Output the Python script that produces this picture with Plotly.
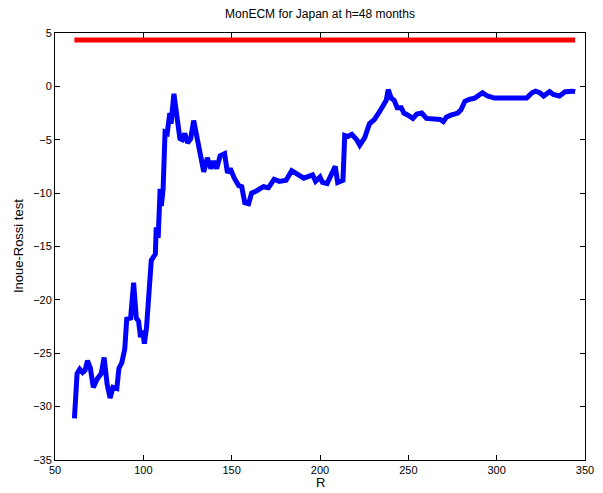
import plotly.graph_objects as go

# Data
r_values = [61, 62, 62.5, 64, 65.6, 67, 68.4, 70, 71.7, 73.9, 76.2, 77.8, 79.5, 81.2, 82.8, 85,
            86.2, 87.8, 89.5, 90.6, 92.8, 94.5, 96, 97.3, 98.4, 99.5, 100.6, 101.8, 103.4, 104.5,
            106.8, 107.3, 108.4, 109.5, 110.2, 111.2, 112.3, 113.5, 115, 115.7, 117.3, 119.5,
            120.7, 122, 123.5, 125, 126.8, 128.5, 130.7, 132.4, 134.2, 136.2, 138.2, 139.8,
            141.5, 143.5, 146, 147.6, 149.2, 151.5, 154, 155.7, 157.4, 159.6, 161.3, 164, 168,
            170.8, 174, 177, 180.8, 184, 187.5, 190.8, 195.8, 197.5, 200, 201.4, 204, 207,
            208.6, 210, 213, 214, 215.8, 218, 220.8, 222.5, 225.3, 228, 230.8, 233.6, 236,
            237.5, 238.6, 240.3, 242, 243.7, 246, 247.5, 249.8, 252.6, 254.8, 257.6, 260.3,
            264, 268, 269.8, 271.5, 274, 278, 279.8, 282, 284.8, 287.6, 292, 294.8, 298.7,
            304, 310, 313, 317, 320, 322, 324.4, 326.6, 329.9, 332, 335.5, 338.8, 343, 344.4]
test_values = [-31.1, -27.5, -26.9, -26.5, -26.8, -26.6, -25.7, -26.4, -28.2, -27.4, -26.9, -25.4,
               -27.9, -29.2, -28.2, -28.3, -26.4, -25.9, -24.6, -21.8, -21.7, -18.4, -21.7, -22.0,
               -23.5, -22.9, -24.1, -22.6, -17.9, -16.3, -15.7, -13.2, -14.2, -9.6, -11.2, -9.6,
               -4.3, -4.4, -2.5, -3.5, -0.7, -3.5, -4.9, -5.0, -4.4, -5.3, -4.9, -3.2, -5.1,
               -6.6, -8.0, -6.7, -7.7, -7.0, -7.7, -6.5, -6.3, -8.1, -7.7, -8.6, -9.3, -9.4,
               -10.9, -11.0, -10.0, -9.8, -9.4, -9.5, -8.7, -8.9, -8.8, -7.9, -8.3, -8.6, -8.3,
               -8.9, -8.5, -9.0, -9.1, -8.1, -7.5, -9.0, -8.8, -4.6, -4.7, -4.5, -5.0, -5.5,
               -4.8, -3.5, -3.1, -2.4, -1.6, -1.3, -0.3, -1.1, -1.3, -2.0, -2.0, -2.5, -2.7,
               -3.0, -2.6, -2.5, -3.0, -3.1, -3.1, -3.3, -2.9, -2.7, -2.5, -2.2, -1.4, -1.2,
               -1.1, -0.6, -0.9, -1.1, -1.1, -1.0, -1.1, -1.1, -0.6, -0.45, -0.6, -0.9, -0.5,
               -0.75, -0.9, -0.5, -0.45, -0.5]
crit_r = [61, 344.4]
crit_values = [4.35, 4.35]

x_ticks = [50, 100, 150, 200, 250, 300, 350]
y_ticks = [5, 0, -5, -10, -15, -20, -25, -30, -35]

FONT = "Liberation Sans, Arial, sans-serif"

fig = go.Figure()
fig.add_trace(go.Scatter(x=r_values, y=test_values, mode="lines",
                         line=dict(color="#0000ff", width=5), showlegend=False))
fig.add_trace(go.Scatter(x=crit_r, y=crit_values, mode="lines",
                         line=dict(color="#ff0000", width=5), showlegend=False))

axis_common = dict(showline=True, linecolor="black", linewidth=1, mirror="ticks",
                   ticks="inside", ticklen=5, tickcolor="black", showgrid=False,
                   zeroline=False, ticklabeloverflow="allow",
                   tickfont=dict(family=FONT, size=11, color="black"))

fig.update_layout(
    width=603, height=493,
    margin=dict(l=55, r=9, t=33, b=33),
    paper_bgcolor="white", plot_bgcolor="white",
    font=dict(family=FONT, size=11, color="black"),
    title=dict(text="MonECM for Japan at h=48 months", x=0.5, xref="paper",
               y=1 - 14 / 493, yref="container", yanchor="middle",
               font=dict(family=FONT, size=12, color="black")),
    xaxis=dict(range=[50, 350], tickvals=x_ticks, **axis_common),
    yaxis=dict(range=[-35, 5], tickvals=y_ticks, **axis_common),
    annotations=[
        dict(text="R", xref="paper", yref="paper", x=0.5, y=-22 / 427, showarrow=False,
             yanchor="middle", font=dict(family=FONT, size=13, color="black")),
        dict(text="Inoue-Rossi test", xref="paper", yref="paper", x=-37 / 539, y=0.5,
             showarrow=False, textangle=-90, xanchor="center",
             font=dict(family=FONT, size=13, color="black")),
    ],
)

fig.write_html("out.html", config={"displayModeBar": False},
               post_script="document.body.style.margin='0';document.body.style.padding='0';")
